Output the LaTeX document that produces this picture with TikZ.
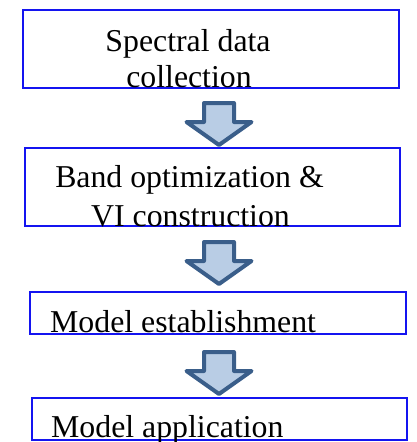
\documentclass[tikz,border=0pt]{standalone}
\usepackage{fontspec}
\setmainfont{Liberation Serif}
\definecolor{boxblue}{RGB}{20,20,240}
\definecolor{arrowedge}{RGB}{58,94,138}
\definecolor{arrowfill}{RGB}{185,205,229}
\tikzset{
  stepbox/.style={draw=boxblue, line width=1.5pt, fill=white},
  steptext/.style={anchor=base, inner sep=0pt, font=\fontsize{31.8}{38}\selectfont},
  blockarrow/.style={draw=arrowedge, fill=arrowfill, line width=4pt, line join=round},
}
\begin{document}
\begin{tikzpicture}[x=1pt, y=-1pt]
\useasboundingbox (0,0) rectangle (416,442);
% process boxes
\draw[stepbox] (23,10) rectangle (399,88) coordinate (b1);
\draw[stepbox] (25,148) rectangle (400,226) coordinate (b2);
\draw[stepbox] (30,292) rectangle (406,334) coordinate (b3);
\draw[stepbox] (32,398) rectangle (407,440) coordinate (b4);
% box labels
\node[steptext] (t1a) at (188,51) {Spectral data};
\node[steptext] (t1b) at (189,87.5) {collection};
\node[steptext] (t2a) at (189.5,187.5) {Band optimization \&};
\node[steptext] (t2b) at (190.5,226.5) {VI construction};
\node[steptext, anchor=base west] (t3) at (50,332) {Model establishment};
\node[steptext, anchor=base west] (t4) at (51,437) {Model application};
% block arrows between the steps (tip points)
\coordinate (a1) at (219,145);
\coordinate (a2) at (219,284);
\coordinate (a3) at (219,394);
\foreach \tip in {a1,a2,a3}{
  \draw[blockarrow, shift={(\tip)}]
    (-15,-42) -- (15,-42) -- (15,-23) -- (32.5,-23) -- (0,0)
    -- (-32.5,-23) -- (-15,-23) -- cycle;
}
\end{tikzpicture}
\end{document}
